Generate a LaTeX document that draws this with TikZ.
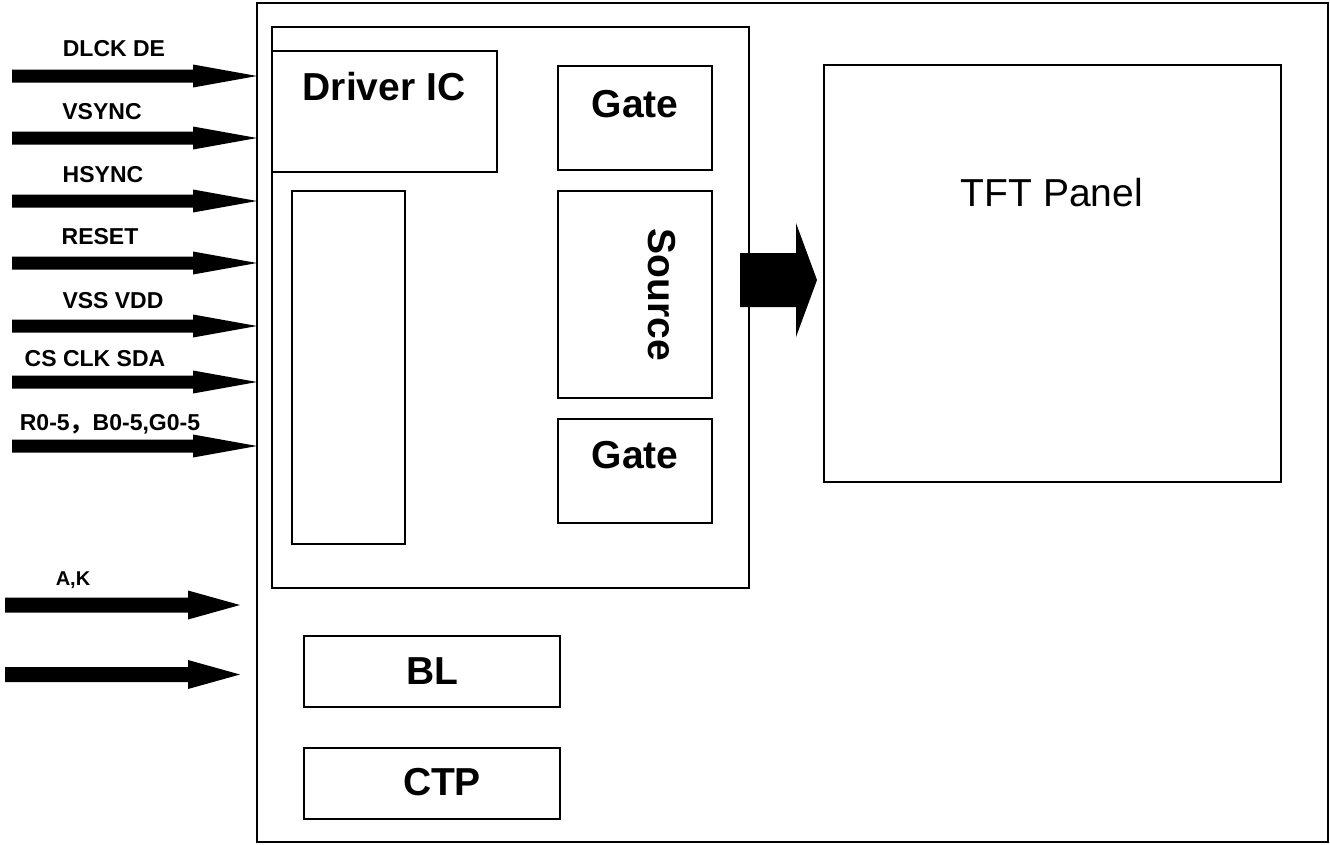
\documentclass[tikz,border=0pt]{standalone}
\usepackage{fontspec}
\setmainfont{Liberation Sans}
\newfontfamily\cjk{Noto Sans CJK SC}
\usetikzlibrary{calc,fit}
% #1 tail coordinate, #2 tip coordinate, #3 shaft half width, #4 head half width, #5 head length
\newcommand{\fatarrow}[5]{%
  \fill ($(#1)+(0,#3)$) -- ($(#2)+(-#5,#3)$) -- ($(#2)+(-#5,#4)$) -- (#2)
        -- ($(#2)+(-#5,-#4)$) -- ($(#2)+(-#5,-#3)$) -- ($(#1)+(0,-#3)$) -- cycle;}
\begin{document}
\begin{tikzpicture}[x=1bp,y=-1bp,
  box/.style={draw, line width=1.5bp, inner sep=0pt, outer sep=0pt},
  sig/.style={font=\fontsize{23bp}{26bp}\selectfont\bfseries, inner sep=0pt, anchor=base},
  sigsmall/.style={font=\fontsize{20bp}{24bp}\selectfont\bfseries, inner sep=0pt, anchor=base},
  big/.style={font=\fontsize{39bp}{44bp}\selectfont\bfseries, inner sep=0pt, anchor=base},
  bigplain/.style={font=\fontsize{39bp}{44bp}\selectfont, inner sep=0pt, anchor=base}]
\useasboundingbox (0,0) rectangle (1330,844);

% boxes
\node[box, fit={(257,3)(1328,842)}] (outer) {};
\node[box, fit={(272,27)(749,588)}] (inner) {};
\node[box, fit={(272,51)(497,172)}] (driver) {};
\node[box, fit={(292,191)(405,544)}] (tall) {};
\node[box, fit={(558,66)(712,170)}] (gate1) {};
\node[box, fit={(558,191)(712,398)}] (source) {};
\node[box, fit={(558,419)(712,523)}] (gate2) {};
\node[box, fit={(824,65)(1281,482)}] (tft) {};
\node[box, fit={(304,636)(560,707)}] (bl) {};
\node[box, fit={(304,748)(560,819)}] (ctp) {};

% box labels
\node[big] (driverlbl) at (384,100) {Driver IC};
\node[big] (gate1lbl) at (635,117) {Gate};
\node[big] (gate2lbl) at (635,468) {Gate};
\node[big, anchor=center, rotate=-90] (sourcelbl) at (661.5,295) {Source};
\node[bigplain] (tftlbl) at (1052,206) {TFT Panel};
\node[big] (bllbl) at (432.5,684) {BL};
\node[big] (ctplbl) at (442,795) {CTP};

% signal labels
\node[sig] (l1) at (114,56) {DLCK DE};
\node[sig] (l2) at (102,119) {VSYNC};
\node[sig] (l3) at (103,182) {HSYNC};
\node[sig] (l4) at (100,244) {RESET};
\node[sig] (l5) at (113,308) {VSS VDD};
\node[sig] (l6) at (95,366) {CS CLK SDA};
\node[sig] (l7) at (110,430) {R0-5{\cjk ，}B0-5,G0-5};
\node[sigsmall] (l8) at (73,585) {A,K};

% arrow end points
\foreach \i/\y in {1/76,2/138,3/201,4/263,5/326,6/382,7/446}{
  \coordinate (s\i) at (12,\y);
  \coordinate (e\i) at (outer.west |- 0,\y);
}
\coordinate (s8) at (5,605);
\coordinate (e8) at (240,605);
\coordinate (s9) at (5,674.5);
\coordinate (e9) at (240,674.5);
\coordinate (bt) at (740,280);
\coordinate (bh) at (tft.west |- 0,280);
\coordinate (bhtip) at ($(bh)+(-7,0)$);

\foreach \i in {1,...,7}{\fatarrow{s\i}{e\i}{6.5}{11.5}{64}}
\fatarrow{s8}{e8}{7.5}{14.5}{52}
\fatarrow{s9}{e9}{7.5}{14.5}{52}
\fatarrow{bt}{bhtip}{27}{57}{21}
\end{tikzpicture}
\end{document}
